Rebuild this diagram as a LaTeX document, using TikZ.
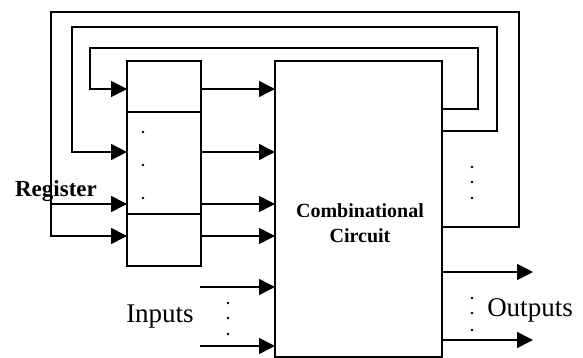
\documentclass[tikz,border=0pt]{standalone}
\usepackage{fontspec}
\setmainfont{Liberation Serif}
\usetikzlibrary{arrows.meta, positioning}

\begin{document}
\begin{tikzpicture}[x=1pt, y=-1pt, line width=1.5pt]
        % Styles
        \tikzstyle{block} = [rectangle, draw, inner sep=0pt, outer sep=0pt, anchor=north west]
        \tikzstyle{line} = [draw, -{Triangle[length=16pt, width=16pt]}]
        \tikzstyle{wire} = [draw]

        \useasboundingbox (0,0) rectangle (583,358);

        % Rows
        \coordinate (r1) at (0,89);
        \coordinate (r2) at (0,152);
        \coordinate (r3) at (0,204);
        \coordinate (r4) at (0,236);
        \coordinate (f1) at (0,109);
        \coordinate (f2) at (0,131);
        \coordinate (f3) at (0,227);
        \coordinate (in1) at (200,287);
        \coordinate (in2) at (200,346);
        \coordinate (out1) at (533,272);
        \coordinate (out2) at (533,340);
        \coordinate (tap) at (51,204);

        % Nodes
        \node [block, minimum width=74pt, minimum height=51pt] (reg1) at (127,61) {};
        \node [block, minimum width=74pt, minimum height=102pt, below=0pt of reg1] (reg2) {};
        \node [block, minimum width=74pt, minimum height=52pt, below=0pt of reg2] (reg3) {};
        \node [block, minimum width=167pt, minimum height=296pt] (comb) at (275,61) {};

        \node [font=\bfseries\fontsize{20}{25}\selectfont, align=center] (comblabel) at (360,223) {Combinational\\Circuit};
        \node [font=\bfseries\fontsize{23}{26}\selectfont] (reglabel) at (56,191) {Register};
        \node [font=\fontsize{27}{30}\selectfont] (inlabel) at (160,317) {Inputs};
        \node [font=\fontsize{27}{30}\selectfont] (outlabel) at (530,310) {Outputs};

        % Paths
        \foreach \r in {r1,r2,r3,r4}
            \path [line] (reg1.east |- \r) -- (comb.west |- \r);
        \path [line] (in1) -- (comb.west |- in1);
        \path [line] (in2) -- (comb.west |- in2);
        \path [line] (comb.east |- out1) -- (out1);
        \path [line] (comb.east |- out2) -- (out2);

        % Feedback
        \path [line] (comb.east |- f1) -| (478,48) -| (90,89) -- (reg1.west |- r1);
        \path [line] (comb.east |- f2) -| (497,27) -| (72,152) -- (reg1.west |- r2);
        \path [line] (comb.east |- f3) -| (519,12) -| (51,236) -- (reg1.west |- r4);
        \path [line] (tap) -- (reg1.west |- r3);

        % Dots
        \foreach \y in {132,165,198} \fill (143,\y) circle (1.4pt);
        \foreach \y in {167,182,198} \fill (472,\y) circle (1.4pt);
        \foreach \y in {298,313,330} \fill (472,\y) circle (1.4pt);
        \foreach \y in {303,318,334} \fill (228,\y) circle (1.4pt);
\end{tikzpicture}
\end{document}
